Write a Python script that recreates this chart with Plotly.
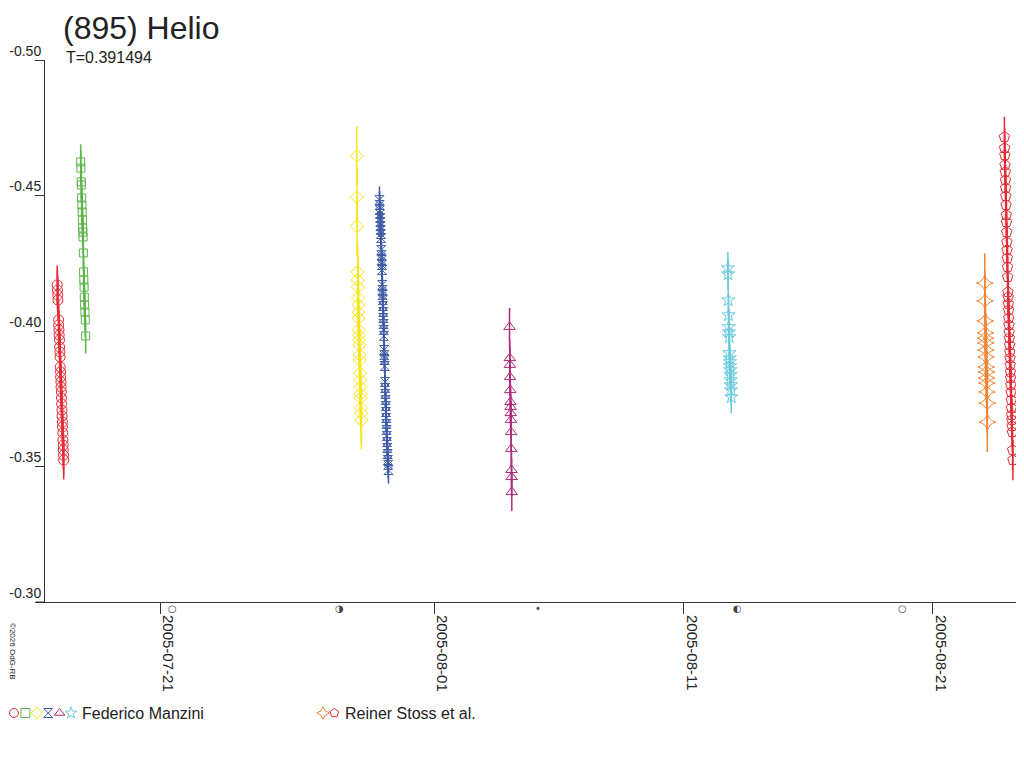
import pandas as pd
import plotly.graph_objects as go

# ---- data (magnitudes), hours are UT after 0h of the night date
night_c1 = "2005-07-16"
hours_c1 = [21.0, 21.2, 21.5, 21.7, 22.3, 22.4, 22.7, 22.9, 23.2, 23.3, 23.6, 23.8, 23.9, 24.2,
            24.3, 24.6, 24.7, 25.0, 25.1, 25.3, 25.6, 25.7, 26.0, 26.1, 26.4, 26.5, 26.8, 26.9,
            27.1, 27.3]
mag_c1 = [-0.4170, -0.4151, -0.4133, -0.4114, -0.4041, -0.4022, -0.4004, -0.3985, -0.3967,
          -0.3941, -0.3923, -0.3904, -0.3867, -0.3849, -0.3830, -0.3812, -0.3793, -0.3775,
          -0.3753, -0.3731, -0.3708, -0.3686, -0.3664, -0.3646, -0.3624, -0.3598, -0.3579,
          -0.3561, -0.3542, -0.3524]

night_c2 = "2005-07-17"
hours_c2 = [19.6, 19.8, 20.1, 20.3, 20.5, 20.8, 21.0, 21.2, 21.5, 21.7, 21.9, 22.2, 22.4,
            22.6, 22.9, 23.1, 23.4, 23.7, 24.0, 24.4]
mag_c2 = [-0.4624, -0.4601, -0.4550, -0.4539, -0.4491, -0.4465, -0.4439, -0.4410, -0.4380,
          -0.4365, -0.4347, -0.4288, -0.4218, -0.4188, -0.4162, -0.4125, -0.4096, -0.4070,
          -0.4041, -0.3982]

night_c3 = "2005-07-28"
hours_c3 = [21.4, 21.5, 21.6, 22.1, 22.3, 22.4, 22.6, 22.8, 23.0, 23.1, 23.4, 23.5, 23.7,
            23.9, 24.1, 24.2, 24.5, 24.6, 24.8, 25.0, 25.2, 25.4, 25.6, 25.9]
mag_c3 = [-0.4646, -0.4494, -0.4387, -0.4218, -0.4188, -0.4162, -0.4122, -0.4096, -0.4070,
          -0.4048, -0.4004, -0.3985, -0.3967, -0.3948, -0.3911, -0.3893, -0.3845, -0.3819,
          -0.3793, -0.3768, -0.3753, -0.3716, -0.3697, -0.3672]

night_c4 = "2005-07-29"
hours_c4 = [19.2, 19.4, 19.5, 19.7, 19.9, 20.1, 20.2, 20.4, 20.6, 20.8, 21.0, 21.1, 21.3,
            21.5, 21.7, 21.9, 22.1, 22.2, 22.4, 22.6, 22.8, 23.0, 23.1, 23.3, 23.5, 23.7,
            23.9, 24.1, 24.3, 24.5, 24.7, 24.9, 25.1, 25.3, 25.5, 25.7, 25.9, 26.1, 26.3,
            26.6, 26.8, 27.1, 27.3, 27.6, 27.9]
mag_c4 = [-0.4483, -0.4465, -0.4446, -0.4432, -0.4417, -0.4402, -0.4387, -0.4373, -0.4358,
          -0.4343, -0.4299, -0.4280, -0.4262, -0.4244, -0.4225, -0.4170, -0.4151, -0.4133,
          -0.4114, -0.4092, -0.4070, -0.4048, -0.4026, -0.4004, -0.3982, -0.3930, -0.3911,
          -0.3893, -0.3871, -0.3812, -0.3790, -0.3768, -0.3745, -0.3723, -0.3701, -0.3679,
          -0.3657, -0.3635, -0.3613, -0.3590, -0.3568, -0.3546, -0.3524, -0.3506, -0.3487]

night_c5 = "2005-08-03"
hours_c5 = [24.4, 24.6, 24.8, 24.9, 25.1, 25.3, 25.4, 25.6, 25.8, 25.9, 26.1, 26.3, 26.4, 26.6]
mag_c5 = [-0.4015, -0.3900, -0.3875, -0.3830, -0.3782, -0.3738, -0.3720, -0.3697, -0.3672,
          -0.3627, -0.3565, -0.3487, -0.3461, -0.3406]

night_c6 = "2005-08-12"
hours_c6 = [18.6, 18.8, 19.0, 19.3, 19.5, 19.7, 19.9, 20.1, 20.3, 20.5, 20.7, 20.9, 21.1,
            21.3, 21.5, 21.7, 21.9]
mag_c6 = [-0.4232, -0.4210, -0.4114, -0.4059, -0.4015, -0.3996, -0.3978, -0.3919, -0.3900,
          -0.3886, -0.3871, -0.3856, -0.3838, -0.3819, -0.3801, -0.3782, -0.3756]

night_c7 = "2005-08-22"
hours_c7 = [25.9, 26.1, 26.3, 26.5, 26.6, 26.8, 27.0, 27.1, 27.3, 27.5, 27.6, 27.8, 28.0,
            28.2, 28.4]
mag_c7 = [-0.4177, -0.4111, -0.4037, -0.3993, -0.3974, -0.3956, -0.3930, -0.3904, -0.3867,
          -0.3849, -0.3827, -0.3808, -0.3775, -0.3734, -0.3664]

night_c8 = "2005-08-23"
hours_c8 = [20.8, 21.0, 21.2, 21.4, 21.6, 21.8, 22.0, 22.2, 22.4, 22.6, 22.8, 23.0, 23.2,
            23.4, 23.6, 23.8, 24.0, 24.2, 24.4, 24.6, 24.8, 25.0, 25.2, 25.4, 25.6, 25.8,
            26.0, 26.2, 26.4, 26.6, 26.8, 27.0, 27.2, 27.4, 27.6, 27.8, 28.0, 28.2, 28.4,
            28.7, 29.0]
mag_c8 = [-0.4716, -0.4675, -0.4649, -0.4613, -0.4587, -0.4557, -0.4528, -0.4498, -0.4465,
          -0.4428, -0.4402, -0.4365, -0.4328, -0.4299, -0.4269, -0.4236, -0.4199, -0.4144,
          -0.4125, -0.4100, -0.4077, -0.4048, -0.4022, -0.3996, -0.3974, -0.3948, -0.3923,
          -0.3900, -0.3875, -0.3849, -0.3827, -0.3801, -0.3775, -0.3745, -0.3716, -0.3690,
          -0.3672, -0.3649, -0.3627, -0.3561, -0.3524]

errors = [0.0072, 0.0065, 0.011, 0.005, 0.007, 0.006, 0.011, 0.0075]
colors = ["#e52b35", "#5db54a", "#f5e51c", "#3f5aa7", "#b02a7c", "#6ccadb", "#f08533", "#e52b35"]
symbols = ["circle-open", "square-open", "diamond-open", "hourglass-open",
           "triangle-up-open", "star-open", "star-diamond-open", "pentagon-open"]
sizes = [10, 8, 10, 9, 10, 10, 12, 11]
observers = ["Federico Manzini", "Reiner Stoss et al."]
observer_of = [0, 0, 0, 0, 0, 0, 1, 1]

nights = [night_c1, night_c2, night_c3, night_c4, night_c5, night_c6, night_c7, night_c8]
hours = [hours_c1, hours_c2, hours_c3, hours_c4, hours_c5, hours_c6, hours_c7, hours_c8]
mags = [mag_c1, mag_c2, mag_c3, mag_c4, mag_c5, mag_c6, mag_c7, mag_c8]

tick_dates = ["2005-07-21", "2005-08-01", "2005-08-11", "2005-08-21"]
y_ticks = [-0.50, -0.45, -0.40, -0.35, -0.30]
y_ticktext = ["-0.50", "-0.45", "-0.40", "-0.35", "-0.30"]
moon_dates = ["2005-07-21 11:00", "2005-07-28 03:19", "2005-08-05 03:05",
              "2005-08-13 02:38", "2005-08-19 17:53"]
moon_glyphs = ["○", "◑", "•", "◐", "○"]

title = "(895) Helio"
subtitle = "T=0.391494"
credit = "©2026 OdG-RB"

FONT = "Liberation Sans, Arial, sans-serif"
TXT = "#222222"
# the page puts the figure 8px in from the top-left corner of the window
OFF = 8
W, H = 1024 - OFF, 768 - OFF


def px(x):
    return (x - OFF) / W


def py(y):
    return 1 - (y - OFF) / H


fig = go.Figure()

for i in range(len(mags)):
    t = pd.Timestamp(nights[i]) + pd.to_timedelta(hours[i], unit="h")
    fig.add_trace(go.Scatter(
        x=t, y=mags[i], mode="markers",
        marker=dict(symbol=symbols[i], size=sizes[i], color=colors[i],
                    line=dict(width=1, color=colors[i])),
        error_y=dict(type="constant", value=errors[i], color=colors[i],
                     thickness=1.5, width=0),
        showlegend=False, hoverinfo="x+y", cliponaxis=False,
    ))

# legend drawn by hand in the bottom strip (window pixel coordinates on a helper axis)
leg_y = 713
leg_start = [14, 323]
leg_step = 11.4
leg_text_x = [80, 343]
for k, name in enumerate(observers):
    idx = [i for i in range(len(mags)) if observer_of[i] == k]
    fig.add_trace(go.Scatter(
        x=[leg_start[k] + j * leg_step for j in range(len(idx))],
        y=[leg_y] * len(idx),
        mode="markers",
        marker=dict(symbol=[symbols[i] for i in idx], color=[colors[i] for i in idx],
                    size=9, line=dict(width=1)),
        xaxis="x2", yaxis="y2", showlegend=False, hoverinfo="skip",
    ))
    fig.add_annotation(x=leg_text_x[k], y=leg_y, xref="x2", yref="y2", text=name,
                       showarrow=False, xanchor="left", yanchor="middle",
                       font=dict(size=16, color=TXT))

# moon phases just under the time axis
for d, g in zip(moon_dates, moon_glyphs):
    fig.add_annotation(x=d, y=-0.30, xref="x", yref="y", text=g, showarrow=False,
                       yanchor="middle", yshift=-6, xshift=1,
                       font=dict(family="DejaVu Sans", size=10, color="#444444"))

fig.add_annotation(x=px(13), y=py(651), xref="paper", yref="paper", text=credit,
                   textangle=90, showarrow=False, xanchor="center", yanchor="middle",
                   font=dict(size=8, color=TXT))

fig.add_annotation(x=px(64), y=py(58), xref="paper", yref="paper",
                   text=subtitle, showarrow=False, xanchor="left", yanchor="middle",
                   font=dict(size=16, color=TXT))

# x axis line runs a little left of the y axis
fig.add_shape(type="line", xref="paper", yref="y", x0=px(36), x1=px(45), y0=-0.30, y1=-0.30,
              line=dict(color="#333333", width=1))

fig.update_layout(
    width=W, height=H,
    paper_bgcolor="white", plot_bgcolor="rgba(0,0,0,0)",
    margin=dict(l=0, r=0, t=0, b=0),
    font=dict(family=FONT, color=TXT),
    title=dict(text=title, x=px(63), y=py(28), xref="container", yref="container",
               xanchor="left", yanchor="middle", font=dict(size=32, color=TXT)),
    xaxis=dict(
        range=["2005-07-16 09:15", "2005-08-24 15:40"], domain=[px(45), 1],
        tickvals=tick_dates, ticktext=tick_dates, tickangle=90,
        ticks="outside", ticklen=11, tickcolor="#333333",
        ticklabelshift=8, ticklabelstandoff=-2,
        showline=True, linecolor="#333333", linewidth=1, automargin=False,
        showgrid=False, zeroline=False, tickfont=dict(size=15, color=TXT),
        anchor="y",
    ),
    yaxis=dict(
        range=[-0.30, -0.50], domain=[py(602), py(60)],
        tickvals=y_ticks, ticktext=y_ticktext,
        ticks="outside", ticklen=9, tickcolor="#333333", ticklabelshift=9,
        ticklabelstandoff=-9,
        showline=True, linecolor="#333333", linewidth=1, automargin=False,
        showgrid=False, zeroline=False, tickfont=dict(size=14, color=TXT),
        anchor="x",
    ),
    xaxis2=dict(range=[OFF, OFF + W], domain=[0, 1], anchor="y2", visible=False),
    yaxis2=dict(range=[OFF + H, OFF], domain=[0, 1], anchor="x2", visible=False),
)

fig.write_html("out.html")
